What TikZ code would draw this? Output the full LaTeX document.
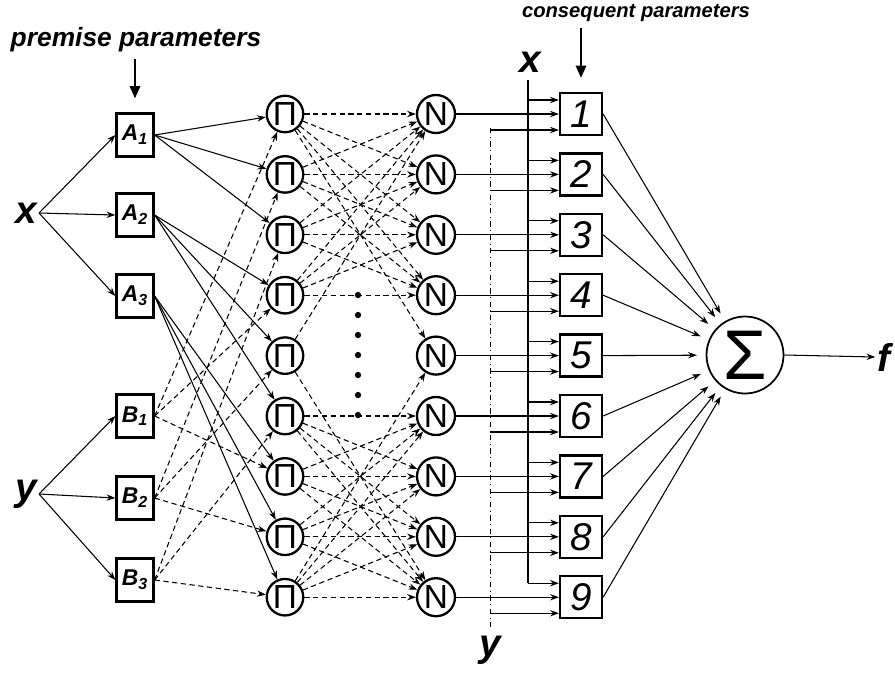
\documentclass[tikz,border=0pt]{standalone}
\usepackage{fontspec}
\setmainfont{Liberation Sans}
\usetikzlibrary{arrows.meta, calc}
\tikzset{
  every picture/.style={line width=0.6pt},
  box/.style={draw, line width=1.3pt, inner sep=0pt, align=center},
  ring/.style={draw, circle, line width=1.3pt, inner sep=0pt, minimum size=0.73cm, font=\fontsize{19}{19}\selectfont},
  link/.style={-{Stealth[length=5pt, width=3.6pt]}, line width=0.6pt},
  pointer/.style={-{Triangle[length=7pt, width=6pt]}, line width=1pt},
  tag/.style={font=\fontsize{22}{22}\selectfont\bfseries\itshape, inner sep=1pt},
  note/.style={font=\bfseries\itshape},
}

\begin{document}
\begin{tikzpicture}[x=0.02cm, y=-0.02cm,
  mf/.style={box, minimum width=0.74cm, minimum height=0.86cm, font=\fontsize{13}{13}\selectfont\bfseries\itshape},
  rulebox/.style={box, minimum size=0.84cm, font=\fontsize{22}{22}\selectfont\itshape},
]
  \useasboundingbox (0,0) rectangle (895,677);

  % titles
  \node[note, font=\fontsize{15}{15}\selectfont\bfseries\itshape] (prem) at (136,40) {premise parameters};
  \node[note, font=\fontsize{11.5}{12}\selectfont\bfseries\itshape] (cons) at (636,13) {consequent parameters};

  % inputs
  \node[tag] (x) at (26,213) {x};
  \node[tag] (y) at (26,494) {y};

  % premise layer
  \node[mf] (A1) at (135,135) {A\textsubscript{1}};
  \node[mf] (A2) at (135,215) {A\textsubscript{2}};
  \node[mf] (A3) at (135,296) {A\textsubscript{3}};
  \node[mf] (B1) at (135,416) {B\textsubscript{1}};
  \node[mf] (B2) at (135,498) {B\textsubscript{2}};
  \node[mf] (B3) at (135,580) {B\textsubscript{3}};

  % rule, normalisation and consequent layers
  \foreach \k in {1,...,9} {
    \pgfmathsetmacro\ry{114+60.4*(\k-1)}
    \node[ring] (P\k) at (285,\ry) {Π};
    \node[ring, minimum size=0.76cm] (N\k) at (436,\ry) {N};
    \node[rulebox] (R\k) at (581,\ry) {\k};
  }
  \node[draw, circle, line width=1pt, minimum size=1.54cm, inner sep=0pt, font=\fontsize{40}{40}\selectfont] (S) at (745,355) {Σ};
  \node[tag] (f) at (884,357) {f};

  \draw[pointer, shorten >=8pt] (A1.north |- prem.south) -- (A1.north);
  \draw[pointer, shorten >=8pt] (R1.north |- cons.south) -- (R1.north);

  \foreach \i in {1,2,3} {
    \draw[link] (x.east) -- (A\i.west);
    \draw[link] (y.east) -- (B\i.west);
  }

  \foreach \i in {1,2,3}
    \foreach \j in {1,2,3} {
      \pgfmathtruncatemacro\k{3*(\i-1)+\j}
      \draw[link] (A\i.east) -- (P\k);
      \draw[link, densely dashed] (B\j.east) -- (P\k);
    }

  % normalisation links
  \foreach \i in {1,...,4}
    \foreach \j in {1,...,4} {
      \draw[link, densely dashed] (P\i) -- (N\j);
    }
  \foreach \i in {6,...,9}
    \foreach \j in {6,...,9} {
      \draw[link, densely dashed] (P\i) -- (N\j);
    }
  \draw[link, densely dashed] (P5) -- (N1);
  \draw[link, densely dashed] (P5) -- (N9);
  \draw[link, densely dashed] (P1) -- (N5);
  \draw[link, densely dashed] (P9) -- (N5);
  \foreach \d in {0,...,6}
    \fill (358,295+20*\d) circle (1.8pt);

  % x and y fed to the consequent nodes
  \coordinate (xtop) at (528,80);
  \coordinate (ytop) at (490,128);
  \coordinate (ybot) at (490,628);
  \node[tag] (xc) at (530,62) {x};
  \node[tag] (yc) at (490,650) {y};
  \draw[dash dot, line width=0.4pt] (ytop) -- (ybot);
  \foreach \k in {1,...,9} {
    \coordinate (xin\k) at ($(R\k.west)+(0,-14)$);
    \coordinate (yin\k) at ($(R\k.west)+(0,16)$);
    \draw[link] (N\k.east) -- (R\k.west);
    \draw[link] (xtop |- xin\k) -- (xin\k);
    \draw[link] (ytop |- yin\k) -- (yin\k);
    \draw[link, shorten >=5pt] (R\k.east) -- (S);
  }
  \draw (xtop) -- (xtop |- xin9);

  \draw[link] (S.east) -- (f.west);
\end{tikzpicture}
\end{document}
